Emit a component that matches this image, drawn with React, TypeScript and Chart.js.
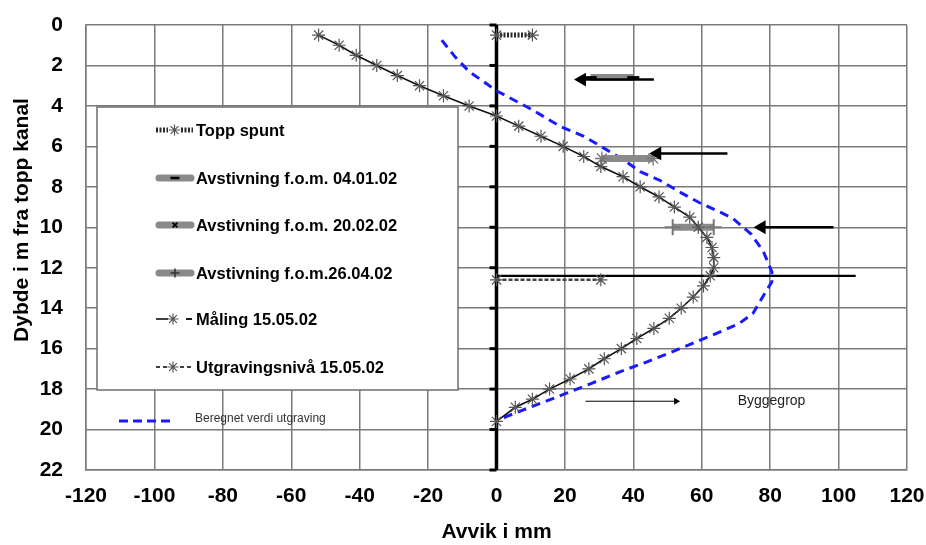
import React, { useEffect, useRef } from 'react';
import { Chart, registerables } from 'chart.js';
import { drawPoint } from 'chart.js/helpers';

Chart.register(...registerables);

const FONT = "'Liberation Sans', Arial, Helvetica, sans-serif";

// ---- data (x = avvik i mm, y = dybde i m) ----
const malingDepth = [0.5, 1.0, 1.5, 2.0, 2.5, 3.0, 3.5, 4.0, 4.5, 5.0, 5.5, 6.0, 6.5, 7.0, 7.5, 8.0, 8.5, 9.0, 9.5, 10.0, 10.5, 11.0, 11.5, 12.0, 12.4, 12.9, 13.45, 14.0, 14.5, 15.0, 15.5, 16.0, 16.5, 17.0, 17.5, 18.0, 18.5, 18.9, 19.6];
const malingDefl = [-52, -46, -41, -35, -29, -22.5, -15.5, -8, 0, 6.5, 13, 19.5, 25.5, 30.5, 37, 42, 47.5, 52, 56.5, 59, 61.5, 63, 63.5, 63.5, 62.5, 60.5, 57.5, 54, 50.5, 46, 41, 36.5, 31.5, 27, 21.5, 15.5, 10.5, 5.5, 0];

const beregnetDepth = [0.75, 1.6, 2.3, 3.25, 4.15, 5.0, 5.5, 6.15, 6.65, 7.25, 7.7, 8.3, 8.8, 9.3, 9.55, 10.35, 11.2, 12.2, 12.7, 13.1, 14.25, 14.75, 15.2, 15.65, 16.15, 16.65, 17.15, 17.7, 18.2, 18.6, 18.95, 19.35, 19.6];
const beregnetDefl = [-16, -12, -8, 0, 10, 18.5, 25.5, 32, 37, 42, 48, 54, 59.5, 66, 69, 74.5, 78, 80.5, 80.5, 79, 75, 71, 65, 58.5, 51.5, 44, 36, 28, 20.5, 14.5, 9, 3, 0];

const toppSpuntDepth = [0.5, 0.5];
const toppSpuntDefl = [0, 10.5];

const avst1Depth = [2.6, 2.6];
const avst1Defl = [27.5, 40];
const avst2Depth = [6.6, 6.6];
const avst2Defl = [30.8, 45.8];
const avst3Depth = [10.0, 10.0];
const avst3Defl = [51.5, 63.5];

const utgravDepth = [12.6, 12.6];
const utgravDefl = [0, 30.5];

// annotation arrows / lines
const arrow1Depth = [2.7, 2.7];
const arrow1Defl = [46, 25];
const arrow2Depth = [6.35, 6.35];
const arrow2Defl = [67.5, 47];
const arrow3Depth = [10.0, 10.0];
const arrow3Defl = [98.5, 77.5];
const excavLineDepth = [12.4, 12.4];
const excavLineDefl = [0, 105];
const byggeArrowDepth = [18.6, 18.6];
const byggeArrowDefl = [26, 52.5];
const byggeTextPos = [70.5, 18.6];

const zeroAxisDepth = [0, 22];
const zeroAxisDefl = [0, 0];

const legendLabels = [
  'Topp spunt',
  'Avstivning f.o.m. 04.01.02',
  'Avstivning f.o.m. 20.02.02',
  'Avstivning f.o.m.26.04.02',
  'Måling 15.05.02',
  'Utgravingsnivå 15.05.02',
];
const beregnetLabel = 'Beregnet verdi utgraving';
const byggegropLabel = 'Byggegrop';
const xTitle = 'Avvik i mm';
const yTitle = 'Dybde i m fra topp kanal';

const pts = (xs: number[], ys: number[]) => xs.map((x, i) => ({ x, y: ys[i] }));

const MARKER = '#555';

const overlayPlugin = {
  id: 'overlay',
  afterDatasetsDraw(chart: any) {
    const ctx = chart.ctx as CanvasRenderingContext2D;
    const xs = chart.scales.x;
    const ys = chart.scales.y;
    ctx.save();

    // ticks on the zero axis (left side)
    const x0 = xs.getPixelForValue(0);
    ctx.strokeStyle = '#000';
    ctx.lineWidth = 3;
    for (let v = 0; v <= 22; v += 2) {
      const py = ys.getPixelForValue(v);
      ctx.beginPath();
      ctx.moveTo(x0 - 7, py);
      ctx.lineTo(x0, py);
      ctx.stroke();
    }

    // legend box
    const bx = 97, by = 107, bw = 361, bh = 283;
    ctx.fillStyle = '#fff';
    ctx.fillRect(bx, by, bw, bh);
    ctx.strokeStyle = '#6f6f6f';
    ctx.lineWidth = 1.5;
    ctx.strokeRect(bx, by, bw, bh);

    const rowY = [130, 178, 225, 273, 319, 367];
    const tx = 196;
    const line = (a: number, b: number, y: number) => {
      ctx.beginPath();
      ctx.moveTo(a, y);
      ctx.lineTo(b, y);
      ctx.stroke();
    };
    const star = (x: number, y: number, style = 'star', r = 5.5, col = MARKER, w = 1.2) => {
      ctx.strokeStyle = col;
      ctx.fillStyle = col;
      ctx.lineWidth = w;
      ctx.setLineDash([]);
      drawPoint(ctx, { pointStyle: style, radius: r, rotation: 0, borderWidth: w } as any, x, y);
    };

    // 0 Topp spunt
    ctx.strokeStyle = '#2a2a2a';
    ctx.lineWidth = 5;
    ctx.setLineDash([2, 1.5]);
    line(156, 168, rowY[0]);
    line(181, 193, rowY[0]);
    star(174.5, rowY[0]);

    // 1-3 Avstivning
    const avMarkers = ['line', 'crossRot', 'cross'];
    for (let i = 1; i <= 3; i++) {
      ctx.setLineDash([]);
      ctx.strokeStyle = '#8a8a8a';
      ctx.lineWidth = 7;
      ctx.lineCap = 'round';
      line(159, 191, rowY[i]);
      ctx.lineCap = 'butt';
      const st = avMarkers[i - 1];
      if (st === 'line') star(175, rowY[i], 'line', 4.5, '#000', 2.5);
      else if (st === 'crossRot') star(175, rowY[i], 'crossRot', 3.5, '#000', 1.8);
      else star(175, rowY[i], 'cross', 4.5, '#333', 1.5);
    }

    // 4 Måling
    ctx.setLineDash([]);
    ctx.strokeStyle = '#000';
    ctx.lineWidth = 1.5;
    line(156, 168, rowY[4]);
    star(173, rowY[4]);
    ctx.strokeStyle = '#000';
    ctx.lineWidth = 1.8;
    line(186, 192, rowY[4]);

    // 5 Utgravingsnivå
    ctx.strokeStyle = '#000';
    ctx.lineWidth = 1.5;
    ctx.setLineDash([4, 3]);
    line(156, 168, rowY[5]);
    star(173, rowY[5]);
    ctx.strokeStyle = '#000';
    ctx.lineWidth = 1.5;
    ctx.setLineDash([4, 3]);
    line(180, 193, rowY[5]);
    ctx.setLineDash([]);

    ctx.fillStyle = '#000';
    ctx.font = `bold 16.5px ${FONT}`;
    ctx.textBaseline = 'middle';
    ctx.textAlign = 'left';
    legendLabels.forEach((t, i) => ctx.fillText(t, tx, rowY[i] + 1));

    // Beregnet label (outside box)
    ctx.strokeStyle = '#1a1aff';
    ctx.lineWidth = 3;
    ctx.setLineDash([9, 5]);
    line(119, 172, 421);
    ctx.setLineDash([]);
    ctx.fillStyle = '#333';
    ctx.font = `12px ${FONT}`;
    ctx.fillText(beregnetLabel, 195, 419);

    // Byggegrop text
    ctx.fillStyle = '#222';
    ctx.font = `14px ${FONT}`;
    ctx.fillText(byggegropLabel, xs.getPixelForValue(byggeTextPos[0]), ys.getPixelForValue(byggeTextPos[1]));

    // y title
    ctx.translate(22, 220);
    ctx.rotate(-Math.PI / 2);
    ctx.textAlign = 'center';
    ctx.fillStyle = '#000';
    ctx.font = `bold 21px ${FONT}`;
    ctx.fillText(yTitle, 0, 0);
    ctx.restore();
  },
};

const arrowSet = (xs: number[], ys: number[], r: number, rot: number, w = 2.5) => ({
  data: pts(xs, ys),
  showLine: true,
  borderColor: '#000',
  borderWidth: w,
  pointStyle: 'triangle',
  rotation: rot,
  pointRadius: [0, r],
  pointBorderWidth: 0,
  pointBackgroundColor: '#000',
  pointBorderColor: '#000',
});

export default function App() {
  const ref = useRef<HTMLCanvasElement | null>(null);
  useEffect(() => {
    if (!ref.current) return;
    const chart = new Chart(ref.current, {
      type: 'scatter',
      data: {
        datasets: [
          arrowSet(arrow1Defl, arrow1Depth, 8, 270),
          arrowSet(arrow2Defl, arrow2Depth, 8, 270),
          arrowSet(arrow3Defl, arrow3Depth, 8, 270),
          arrowSet(byggeArrowDefl, byggeArrowDepth, 4, 90, 1),
          {
            label: legendLabels[4],
            data: pts(malingDefl, malingDepth),
            showLine: true,
            borderColor: '#111',
            borderWidth: 1.6,
            pointStyle: 'star',
            pointRadius: 6.5,
            pointBorderColor: MARKER,
            pointBorderWidth: 1.2,
            pointBackgroundColor: MARKER,
          },
          {
            label: legendLabels[5],
            data: pts(utgravDefl, utgravDepth),
            showLine: true,
            borderColor: '#444',
            borderWidth: 2.5,
            borderDash: [4, 2],
            pointStyle: 'star',
            pointRadius: 6.5,
            pointBorderColor: MARKER,
            pointBorderWidth: 1.2,
          },
          {
            label: legendLabels[1],
            data: pts(avst1Defl, avst1Depth),
            showLine: true,
            borderColor: '#8a8a8a',
            borderWidth: 7,
            pointStyle: 'line',
            pointRadius: 6,
            pointBorderColor: '#000',
            pointBorderWidth: 3,
          },
          {
            label: legendLabels[2],
            data: pts(avst2Defl, avst2Depth),
            showLine: true,
            borderColor: '#8a8a8a',
            borderWidth: 7,
            pointStyle: 'star',
            pointRadius: 7,
            pointBorderColor: '#777',
            pointBorderWidth: 1.3,
          },
          {
            label: legendLabels[3],
            data: pts(avst3Defl, avst3Depth),
            showLine: true,
            borderColor: '#8a8a8a',
            borderWidth: 7,
            pointStyle: 'cross',
            pointRadius: 8,
            pointBorderColor: '#777',
            pointBorderWidth: 2,
          },
          {
            label: legendLabels[0],
            data: pts(toppSpuntDefl, toppSpuntDepth),
            showLine: true,
            borderColor: '#2a2a2a',
            borderWidth: 5,
            borderDash: [2, 1.5],
            pointStyle: 'star',
            pointRadius: 6.5,
            pointBorderColor: MARKER,
            pointBorderWidth: 1.2,
          },
          {
            label: beregnetLabel,
            data: pts(beregnetDefl, beregnetDepth),
            showLine: true,
            borderColor: '#1a1aff',
            borderWidth: 3,
            borderDash: [9, 6],
            pointRadius: 0,
          },
          {
            data: pts(excavLineDefl, excavLineDepth),
            showLine: true,
            borderColor: '#000',
            borderWidth: 2.2,
            pointRadius: 0,
          },
          {
            data: pts(zeroAxisDefl, zeroAxisDepth),
            showLine: true,
            borderColor: '#000',
            borderWidth: 3.5,
            pointRadius: 0,
          },
        ] as any,
      },
      options: {
        responsive: false,
        animation: false,
        layout: { padding: { top: 25, right: 19, left: 0, bottom: 0 } },
        plugins: { legend: { display: false }, tooltip: { enabled: false } },
        scales: {
          x: {
            type: 'linear',
            min: -120,
            max: 120,
            ticks: { stepSize: 20, autoSkip: false, maxRotation: 0, padding: 14, color: '#000', font: { family: FONT, size: 21, weight: 'bold' } },
            grid: { color: '#7a7a7a', lineWidth: 1.5, drawTicks: false },
            border: { color: '#7a7a7a', width: 1.5 },
            title: { display: true, text: xTitle, color: '#000', padding: 0, font: { family: FONT, size: 21, weight: 'bold' } },
            afterFit: (s: any) => { s.height = 75; s.paddingLeft = 0; s.paddingRight = 0; },
          },
          y: {
            type: 'linear',
            reverse: true,
            min: 0,
            max: 22,
            ticks: { stepSize: 2, padding: 23, color: '#000', font: { family: FONT, size: 21, weight: 'bold' } },
            grid: { color: '#7a7a7a', lineWidth: 1.5, drawTicks: false },
            border: { color: '#7a7a7a', width: 1.5 },
            afterFit: (s: any) => { s.width = 86; s.paddingTop = 0; s.paddingBottom = 0; },
          },
        },
      } as any,
      plugins: [overlayPlugin],
    });
    return () => chart.destroy();
  }, []);

  return (
    <div style={{ position: 'absolute', left: 0, top: 0, width: 926, height: 545, background: '#fff' }}>
      <canvas ref={ref} width={926} height={545} />
    </div>
  );
}
